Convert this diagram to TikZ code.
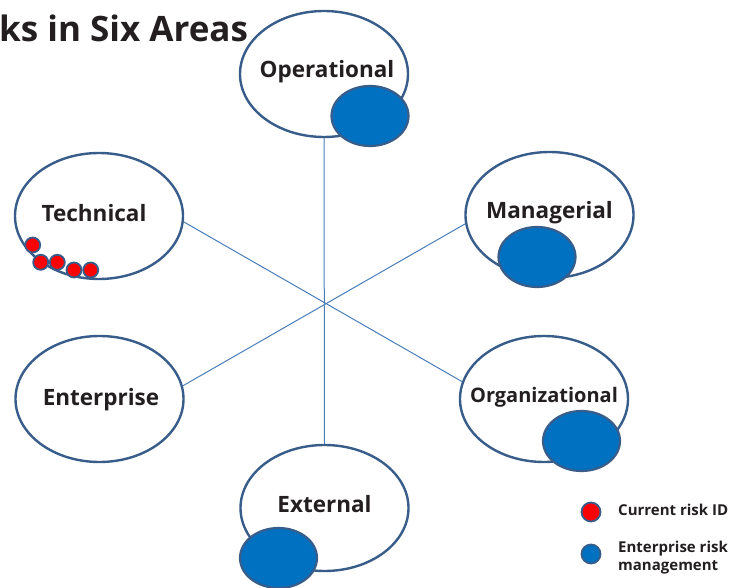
\documentclass[tikz,border=0pt]{standalone}
\usepackage{fontspec}
\setmainfont{Open Sans}
\usetikzlibrary{shapes.geometric}
\definecolor{rim}{HTML}{385D8A}
\definecolor{spoke}{HTML}{4A7EBB}
\definecolor{ermblue}{HTML}{0070C0}
\definecolor{riskred}{HTML}{FF0000}
\definecolor{ink}{HTML}{231F20}
\tikzset{
  area/.style={ellipse, draw=rim, line width=2.4pt, fill=white,
    minimum width=168pt, minimum height=126pt, inner sep=0pt},
  ermdot/.style={ellipse, draw=rim, line width=2.2pt, fill=ermblue,
    minimum width=77pt, minimum height=60pt, inner sep=0pt},
  riskdot/.style={circle, draw=rim, line width=1.8pt, fill=riskred,
    minimum size=15pt, inner sep=0pt},
  areaname/.style={anchor=base, font=\bfseries\fontsize{22.5}{26}\selectfont, text=ink, inner sep=0pt},
  legendtext/.style={anchor=base west, font=\bfseries\fontsize{15}{18}\selectfont, text=ink,
    inner sep=0pt, align=left},
  spokeline/.style={draw=spoke, line width=1pt}
}
\begin{document}
\begin{tikzpicture}[x=1pt, y=-1pt]
\useasboundingbox (0,0) rectangle (747,588);

% title, running off the left edge
\node[anchor=base west, inner sep=0pt, text=ink,
  font=\bfseries\fontsize{35}{40}\selectfont] (title) at (-1,42) {ks in Six Areas};

% the six risk areas
\node[area] (op)  at (324,74)    {};
\node[area] (tech) at (99,216)   {};
\node[area] (man) at (549.5,215) {};
\node[area] (ent) at (99.5,399)  {};
\node[area] (org) at (544,399)   {};
\node[area] (ext) at (324.5,508) {};

% spokes crossing in the middle
\draw[spokeline] (op.south) -- (ext.north);
\draw[spokeline] (tech.-4) -- (org.168.3);
\draw[spokeline] (ent.9.2) -- (man.-174.7);

% area names
\node[areaname] (opname)   at (327,78)    {Operational};
\node[areaname] (techname) at (94,222)    {Technical};
\node[areaname] (manname)  at (549.5,219) {Managerial};
\node[areaname] (entname)  at (101,405)   {Enterprise};
\node[areaname, font=\bfseries\fontsize{20}{23}\selectfont] (orgname) at (544,402) {Organizational};
\node[areaname] (extname)  at (324.5,512) {External};

% enterprise risk management coverage
\node[ermdot] (operm)  at (370,116) {};
\node[ermdot] (manerm) at (537,257) {};
\node[ermdot] (orgerm) at (581.5,441) {};
\node[ermdot] (exterm) at (278.5,558) {};

% current risk identification on the technical side
\node[riskdot] (r1) at (32.7,245)   {};
\node[riskdot] (r2) at (40.7,262.3) {};
\node[riskdot] (r3) at (57.3,262.3) {};
\node[riskdot] (r4) at (74,270)     {};
\node[riskdot] (r5) at (90.7,270)   {};

% legend
\node[riskdot, minimum size=19pt] (legred)  at (591,512) {};
\node[legendtext] (legredtext) at (618,515) {Current risk ID};
\node[riskdot, fill=ermblue, minimum size=19pt] (legblue) at (591,554) {};
\node[legendtext] (legbluetext) at (618,552) {Enterprise risk};
\node[legendtext] (legbluetext2) at (618,570) {management};
\end{tikzpicture}
\end{document}
